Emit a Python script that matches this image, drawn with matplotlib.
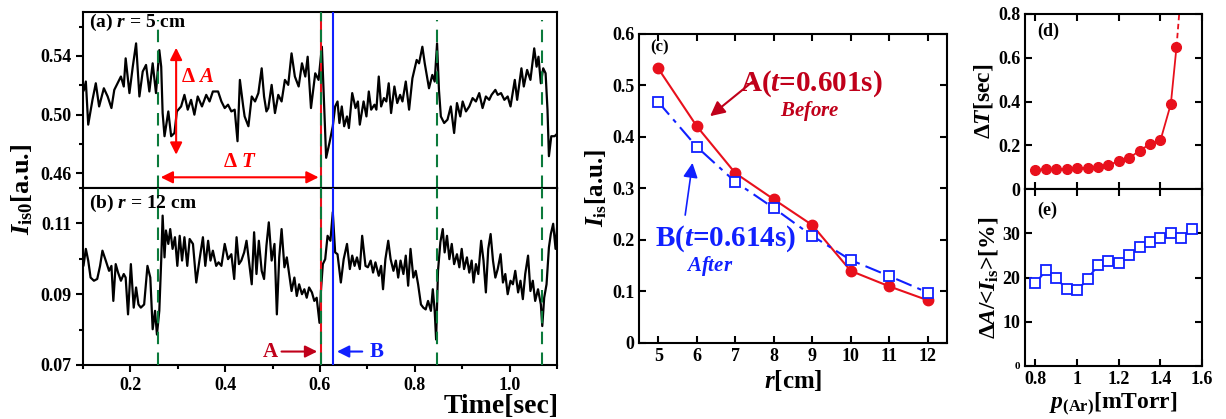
import matplotlib
matplotlib.use('Agg')
from matplotlib import pyplot as plt
from matplotlib.ticker import MultipleLocator

plt.rcParams['font.family'] = ['Liberation Serif', 'DejaVu Serif']
plt.rcParams['font.weight'] = 'bold'
plt.rcParams['axes.labelweight'] = 'bold'
plt.rcParams['mathtext.fontset'] = 'custom'
plt.rcParams['mathtext.rm'] = 'Liberation Serif:bold'
plt.rcParams['mathtext.it'] = 'Liberation Serif:italic:bold'
plt.rcParams['mathtext.bf'] = 'Liberation Serif:bold'
plt.rcParams['axes.linewidth'] = 1.5

# (a) r = 5 cm ion saturation current trace
ta = [0.095, 0.102, 0.106, 0.111, 0.120, 0.127, 0.134, 0.144, 0.152, 0.160,
      0.166, 0.173, 0.180, 0.186, 0.190, 0.198, 0.205, 0.212, 0.219, 0.226,
      0.233, 0.240, 0.247, 0.254, 0.261, 0.265, 0.268, 0.272, 0.280, 0.286,
      0.293, 0.298, 0.307, 0.314, 0.321, 0.328, 0.335, 0.342, 0.351, 0.360,
      0.367, 0.374, 0.385, 0.392, 0.399, 0.406, 0.413, 0.420, 0.426, 0.431,
      0.438, 0.441, 0.449, 0.456, 0.463, 0.470, 0.477, 0.482, 0.487, 0.491,
      0.498, 0.505, 0.512, 0.519, 0.526, 0.533, 0.540, 0.547, 0.555, 0.562,
      0.569, 0.574, 0.581, 0.590, 0.597, 0.604, 0.608, 0.613, 0.620, 0.627,
      0.632, 0.637, 0.641, 0.646, 0.651, 0.657, 0.661, 0.668, 0.675, 0.680,
      0.684, 0.692, 0.698, 0.703, 0.708, 0.715, 0.719, 0.724, 0.729, 0.735,
      0.740, 0.745, 0.750, 0.757, 0.763, 0.769, 0.774, 0.781, 0.788, 0.795,
      0.804, 0.809, 0.816, 0.821, 0.830, 0.837, 0.842, 0.847, 0.851, 0.855,
      0.862, 0.869, 0.876, 0.883, 0.889, 0.896, 0.901, 0.908, 0.915, 0.922,
      0.929, 0.936, 0.943, 0.950, 0.957, 0.962, 0.970, 0.975, 0.982, 0.989,
      0.996, 1.002, 1.011, 1.016, 1.025, 1.030, 1.037, 1.044, 1.052, 1.057,
      1.061, 1.066, 1.071, 1.076, 1.080, 1.083, 1.088, 1.095, 1.102]
ia = [0.5124, 0.5169, 0.5226, 0.4932, 0.5101, 0.5214, 0.5056, 0.5180, 0.5124, 0.5045,
      0.5169, 0.5214, 0.5260, 0.5192, 0.5384, 0.5147, 0.5327, 0.5486, 0.5124, 0.5294,
      0.5339, 0.5158, 0.5350, 0.5147, 0.5440, 0.5327, 0.5011, 0.4853, 0.5022, 0.4853,
      0.4875, 0.5022, 0.5056, 0.5135, 0.5034, 0.5101, 0.5000, 0.5124, 0.5056, 0.5135,
      0.5090, 0.5158, 0.5158, 0.5090, 0.5045, 0.5068, 0.5022, 0.5034, 0.4819, 0.5237,
      0.5056, 0.4988, 0.4921, 0.5124, 0.5090, 0.5147, 0.5316, 0.5124, 0.5022, 0.5045,
      0.5203, 0.5011, 0.5135, 0.5090, 0.5237, 0.5203, 0.5418, 0.5260, 0.5192, 0.5350,
      0.5260, 0.5395, 0.5045, 0.5282, 0.5237, 0.5463, 0.5124, 0.4706, 0.4808, 0.4921,
      0.5056, 0.5090, 0.4943, 0.5056, 0.4921, 0.4988, 0.4909, 0.5147, 0.5045, 0.5090,
      0.4932, 0.5090, 0.4988, 0.5158, 0.5034, 0.5068, 0.5034, 0.5260, 0.5056, 0.5113,
      0.5090, 0.5214, 0.5011, 0.5192, 0.5079, 0.5135, 0.5090, 0.5226, 0.5034, 0.5248,
      0.5373, 0.5350, 0.5463, 0.5350, 0.5180, 0.5271, 0.5226, 0.5486, 0.5169, 0.4988,
      0.4943, 0.4966, 0.5056, 0.4875, 0.5079, 0.4988, 0.5090, 0.5022, 0.5056, 0.5113,
      0.5090, 0.5147, 0.5045, 0.5124, 0.5101, 0.5135, 0.5169, 0.5135, 0.5147, 0.5101,
      0.5124, 0.5056, 0.5237, 0.5101, 0.5316, 0.5192, 0.5305, 0.5237, 0.5452, 0.5327,
      0.5395, 0.5214, 0.5316, 0.5282, 0.5034, 0.4717, 0.4853, 0.4853, 0.4875]

# (b) r = 12 cm trace
tb = [0.095, 0.101, 0.106, 0.111, 0.116, 0.123, 0.130, 0.136, 0.141, 0.148,
      0.155, 0.160, 0.164, 0.169, 0.174, 0.180, 0.186, 0.190, 0.195, 0.201,
      0.207, 0.212, 0.217, 0.222, 0.229, 0.236, 0.242, 0.247, 0.252, 0.256,
      0.261, 0.265, 0.268, 0.272, 0.275, 0.280, 0.284, 0.289, 0.294, 0.299,
      0.304, 0.309, 0.314, 0.320, 0.325, 0.332, 0.339, 0.346, 0.353, 0.358,
      0.364, 0.369, 0.374, 0.381, 0.386, 0.392, 0.399, 0.406, 0.413, 0.419,
      0.424, 0.429, 0.434, 0.440, 0.445, 0.450, 0.456, 0.461, 0.466, 0.471,
      0.477, 0.482, 0.487, 0.492, 0.498, 0.504, 0.509, 0.514, 0.519, 0.525,
      0.530, 0.535, 0.540, 0.546, 0.551, 0.556, 0.562, 0.567, 0.572, 0.577,
      0.583, 0.588, 0.593, 0.599, 0.602, 0.606, 0.611, 0.616, 0.622, 0.627,
      0.632, 0.637, 0.644, 0.650, 0.657, 0.663, 0.668, 0.673, 0.678, 0.684,
      0.689, 0.696, 0.701, 0.707, 0.712, 0.717, 0.724, 0.729, 0.733, 0.738,
      0.744, 0.749, 0.755, 0.760, 0.765, 0.770, 0.776, 0.781, 0.786, 0.791,
      0.797, 0.802, 0.807, 0.813, 0.818, 0.823, 0.828, 0.834, 0.838, 0.842,
      0.845, 0.849, 0.854, 0.859, 0.863, 0.868, 0.873, 0.878, 0.883, 0.889,
      0.894, 0.899, 0.904, 0.910, 0.915, 0.920, 0.924, 0.929, 0.934, 0.940,
      0.945, 0.950, 0.955, 0.960, 0.965, 0.970, 0.975, 0.981, 0.986, 0.991,
      0.996, 1.002, 1.007, 1.012, 1.018, 1.023, 1.028, 1.033, 1.039, 1.044,
      1.049, 1.054, 1.060, 1.066, 1.069, 1.073, 1.078, 1.083, 1.087, 1.092,
      1.097, 1.101]
ib = [0.1075, 0.0980, 0.1028, 0.0995, 0.0947, 0.0938, 0.0943, 0.0980, 0.1023, 0.0995,
      0.0966, 0.0980, 0.0881, 0.0985, 0.0961, 0.0938, 0.0957, 0.0947, 0.0843, 0.0985,
      0.0862, 0.0919, 0.0871, 0.0862, 0.0871, 0.0980, 0.0947, 0.0801, 0.0853, 0.0786,
      0.0853, 0.0995, 0.1122, 0.1004, 0.1080, 0.1042, 0.1084, 0.1028, 0.1061, 0.0980,
      0.1065, 0.0995, 0.1061, 0.0980, 0.1056, 0.1042, 0.0933, 0.0999, 0.1061, 0.0980,
      0.1051, 0.0995, 0.1023, 0.0980, 0.0990, 0.0980, 0.1042, 0.0999, 0.1013, 0.0943,
      0.1061, 0.0985, 0.0995, 0.1018, 0.1051, 0.0995, 0.0928, 0.1075, 0.0957, 0.1051,
      0.0966, 0.0943, 0.1037, 0.1103, 0.0995, 0.1042, 0.0843, 0.1004, 0.1084, 0.0976,
      0.1004, 0.0957, 0.0909, 0.0947, 0.0895, 0.0928, 0.0900, 0.0914, 0.0890, 0.0919,
      0.0905, 0.0881, 0.0890, 0.0819, 0.0909, 0.0985, 0.0999, 0.1065, 0.1051, 0.1132,
      0.1018, 0.1013, 0.0933, 0.0999, 0.1042, 0.0971, 0.1009, 0.0980, 0.1004, 0.0971,
      0.1065, 0.0980, 0.0976, 0.0995, 0.0961, 0.0990, 0.0952, 0.0980, 0.0914, 0.0999,
      0.1051, 0.0999, 0.0966, 0.0995, 0.0947, 0.0995, 0.0957, 0.1009, 0.0924, 0.1028,
      0.0947, 0.0966, 0.0928, 0.0871, 0.0862, 0.0857, 0.0881, 0.0853, 0.0914, 0.0853,
      0.0772, 0.0966, 0.1047, 0.1084, 0.1018, 0.1065, 0.0999, 0.1042, 0.0985, 0.1013,
      0.0976, 0.1028, 0.0971, 0.1004, 0.0961, 0.0995, 0.0933, 0.0985, 0.0957, 0.1051,
      0.0995, 0.0905, 0.1028, 0.1070, 0.0995, 0.0947, 0.0971, 0.1013, 0.0933, 0.0957,
      0.0900, 0.0938, 0.0928, 0.0966, 0.0905, 0.0938, 0.0886, 0.0957, 0.1009, 0.0909,
      0.0938, 0.0881, 0.0914, 0.0871, 0.0810, 0.0890, 0.0928, 0.1032, 0.1070, 0.1099,
      0.1028, 0.1103]

t_crash = [0.258, 0.846, 1.068]
t_A = 0.603
t_B = 0.627

# (c) radial profiles
r = [5, 6, 7, 8, 9, 10, 11, 12]
Iis_A = [0.533, 0.421, 0.330, 0.279, 0.229, 0.140, 0.110, 0.083]
Iis_B = [0.468, 0.381, 0.313, 0.262, 0.208, 0.161, 0.130, 0.098]

# (d), (e) vs argon pressure
p_dT = [0.8, 0.85, 0.9, 0.95, 1.0, 1.05, 1.1, 1.15, 1.2, 1.25, 1.3, 1.35, 1.4, 1.45, 1.477]
dT = [0.088, 0.091, 0.091, 0.091, 0.096, 0.096, 0.100, 0.111, 0.126, 0.141,
      0.176, 0.205, 0.222, 0.389, 0.648]
p_ext = [1.477, 1.49]
dT_ext = [0.648, 0.80]
p_dA = [0.8, 0.85, 0.9, 0.95, 1.0, 1.05, 1.1, 1.15, 1.2, 1.25, 1.3, 1.35, 1.4, 1.45, 1.5, 1.55]
dA = [18.7, 21.6, 19.8, 17.4, 17.1, 19.6, 22.8, 23.7, 23.2, 25.1, 27.0, 28.0, 28.9, 30.0, 28.9, 31.0]

RED = '#e8101c'
DRED = '#c0001a'
BLUE = '#1020ff'
GREEN = '#0b7a3b'

fig = plt.figure(figsize=(12.26, 4.19), dpi=100)
ax_a = fig.add_axes([0.0677, 0.5513, 0.3866, 0.4201])
ax_b = fig.add_axes([0.0677, 0.1289, 0.3866, 0.4224])
ax_c = fig.add_axes([0.5212, 0.1814, 0.2512, 0.7375])
ax_d = fig.add_axes([0.8361, 0.5489, 0.1444, 0.4177])
ax_e = fig.add_axes([0.8361, 0.1265, 0.1444, 0.4224])

tick_kw = dict(labelsize=13, width=1.5)

# --- time traces
for ax, t, y, ylim in [(ax_a, ta, ia, (0.45, 0.57)), (ax_b, tb, ib, (0.07, 0.12))]:
    ax.plot(t, y, color='black', lw=1.6, zorder=2)
    ax.set_xlim(0.1, 1.1)
    ax.set_ylim(*ylim)
    ax.axvline(t_A, color=RED, lw=1.5, zorder=3)
    ax.axvline(t_A, color=GREEN, lw=1.5, ls=(0, (6, 4)), zorder=3)
    ax.axvline(t_B, color=BLUE, lw=1.5, zorder=3)
    ax.xaxis.set_major_locator(MultipleLocator(0.2))
    ax.xaxis.set_minor_locator(MultipleLocator(0.1))
    ax.tick_params(which='major', direction='out', length=5, **tick_kw)
    ax.tick_params(which='minor', direction='out', length=3, width=1.5)

for tc in t_crash:
    ax_a.axvline(tc, ymax=0.955, color=GREEN, lw=1.5, ls=(0, (6, 4)), zorder=3)
    ax_b.axvline(tc, color=GREEN, lw=1.5, ls=(0, (6, 4)), zorder=3)

ax_a.set_yticks([0.46, 0.50, 0.54])
ax_a.set_yticklabels(['0.46', '0.50', '0.54'])
ax_a.yaxis.set_minor_locator(MultipleLocator(0.02))
ax_a.tick_params(labelbottom=False)
ax_b.set_yticks([0.07, 0.09, 0.11])
ax_b.set_yticklabels(['0.07', '0.09', '0.11'])
ax_b.yaxis.set_minor_locator(MultipleLocator(0.01))
ax_b.set_xticks([0.2, 0.4, 0.6, 0.8, 1.0])
ax_b.set_xticklabels(['0.2', '0.4', '0.6', '0.8', '1.0'])

ax_a.text(0.012, 0.94, '(a) $r$ = 5 cm', transform=ax_a.transAxes, fontsize=14,
          va='center', ha='left')
ax_b.text(0.012, 0.91, '(b) $r$ = 12 cm', transform=ax_b.transAxes, fontsize=14,
          va='center', ha='left')

ax_a.annotate('', xy=(0.2965, 0.4708), xytext=(0.2965, 0.5475),
              arrowprops=dict(arrowstyle='<|-|>', color='red', lw=1.5, mutation_scale=18))
ax_a.text(0.307, 0.526, 'Δ $A$', color='red', fontsize=15, va='center', ha='left')
ax_a.annotate('', xy=(0.258, 0.4573), xytext=(t_A, 0.4573),
              arrowprops=dict(arrowstyle='<|-|>', color='red', lw=1.5, mutation_scale=18))
ax_a.text(0.432, 0.468, 'Δ $T$', color='red', fontsize=15, va='center', ha='center')

ax_b.annotate('', xy=(t_A - 0.003, 0.0738), xytext=(0.513, 0.0738),
              arrowprops=dict(arrowstyle='-|>', color=DRED, lw=1.5, mutation_scale=18))
ax_b.text(0.496, 0.0738, 'A', color=DRED, fontsize=15, va='center', ha='center')
ax_b.annotate('', xy=(t_B + 0.003, 0.0738), xytext=(0.695, 0.0738),
              arrowprops=dict(arrowstyle='-|>', color=BLUE, lw=1.5, mutation_scale=18))
ax_b.text(0.719, 0.0738, 'B', color=BLUE, fontsize=15, va='center', ha='center')

fig.text(0.018, 0.547, r'$I_{\rm is0}$[a.u.]', rotation=90, fontsize=19,
         ha='center', va='center')
fig.text(0.456, 0.030, 'Time[sec]', fontsize=20, ha='right', va='center')

# --- (c)
ax_c.plot(r, Iis_A, color=RED, lw=1.5, marker='o', ms=7.5, mfc=RED, mec=RED)
ax_c.plot(r, Iis_B, color=BLUE, lw=1.5, ls=(0, (8, 3, 2, 3)), marker='s', ms=7,
          mfc='white', mec=BLUE, mew=1.3)
ax_c.set_xlim(4.5, 12.5)
ax_c.set_ylim(0, 0.6)
ax_c.set_xticks(r)
ax_c.set_yticks([0, 0.1, 0.2, 0.3, 0.4, 0.5, 0.6])
ax_c.set_yticklabels(['0', '0.1', '0.2', '0.3', '0.4', '0.5', '0.6'])
ax_c.tick_params(direction='in', length=5, top=True, right=True, **tick_kw)
ax_c.set_xlabel('$r$[cm]', fontsize=18, labelpad=2)
ax_c.set_ylabel(r'$I_{\rm is}$[a.u.]', fontsize=18, labelpad=2)
ax_c.text(0.035, 0.955, '(c)', transform=ax_c.transAxes, fontsize=12, va='center')
ax_c.annotate('', xy=(6.29, 0.437), xytext=(7.51, 0.511),
              arrowprops=dict(arrowstyle='-|>', color=DRED, lw=1.5, mutation_scale=22))
ax_c.text(7.12, 0.503, 'A($t$=0.601s)', color=DRED, fontsize=21, va='center', ha='left')
ax_c.text(8.94, 0.450, '$Before$', color=DRED, fontsize=15, va='center', ha='center')
ax_c.annotate('', xy=(5.90, 0.355), xytext=(5.69, 0.243),
              arrowprops=dict(arrowstyle='-|>', color=BLUE, lw=1.2, mutation_scale=22))
ax_c.text(4.92, 0.202, 'B($t$=0.614s)', color=BLUE, fontsize=21, va='center', ha='left')
ax_c.text(6.34, 0.150, '$After$', color=BLUE, fontsize=15, va='center', ha='center')

# --- (d)
ax_d.plot(p_dT, dT, color=RED, lw=1.3, marker='o', ms=7, mfc=RED, mec=RED)
ax_d.plot(p_ext, dT_ext, color=RED, lw=1.3, ls=(0, (3, 2)))
ax_d.set_xlim(0.75, 1.6)
ax_d.set_ylim(0, 0.8)
ax_d.set_xticks([0.8, 1.0, 1.2, 1.4, 1.6])
ax_d.set_yticks([0, 0.2, 0.4, 0.6, 0.8])
ax_d.set_yticklabels(['0', '0.2', '0.4', '0.6', '0.8'])
ax_d.tick_params(direction='in', length=5, top=True, right=True, labelbottom=False, **tick_kw)
ax_d.set_ylabel('Δ$T$[sec]', fontsize=17, labelpad=2)
ax_d.text(0.07, 0.9, '(d)', transform=ax_d.transAxes, fontsize=13, va='center')

# --- (e)
ax_e.plot(p_dA, dA, color=BLUE, lw=1.5, marker='s', ms=7, mfc='white', mec=BLUE, mew=1.3)
ax_e.set_xlim(0.75, 1.6)
ax_e.set_ylim(0, 40)
ax_e.set_xticks([0.8, 1.0, 1.2, 1.4, 1.6])
ax_e.set_xticklabels(['0.8', '1', '1.2', '1.4', '1.6'])
ax_e.set_yticks([0, 10, 20, 30])
ax_e.set_yticklabels(['0', '10', '20', '30'])
ax_e.tick_params(direction='in', length=5, top=True, right=True, **tick_kw)
ax_e.get_yticklabels()[0].set_fontsize(8)
ax_e.set_xlabel(r'$p_{\rm (Ar)}$[mTorr]', fontsize=17, labelpad=2)
ax_e.set_ylabel(r'Δ$A$/<$I_{\rm is}$>[%]', fontsize=17, labelpad=2)
ax_e.text(0.07, 0.88, '(e)', transform=ax_e.transAxes, fontsize=13, va='center')

fig.savefig('out.png', dpi=100)
